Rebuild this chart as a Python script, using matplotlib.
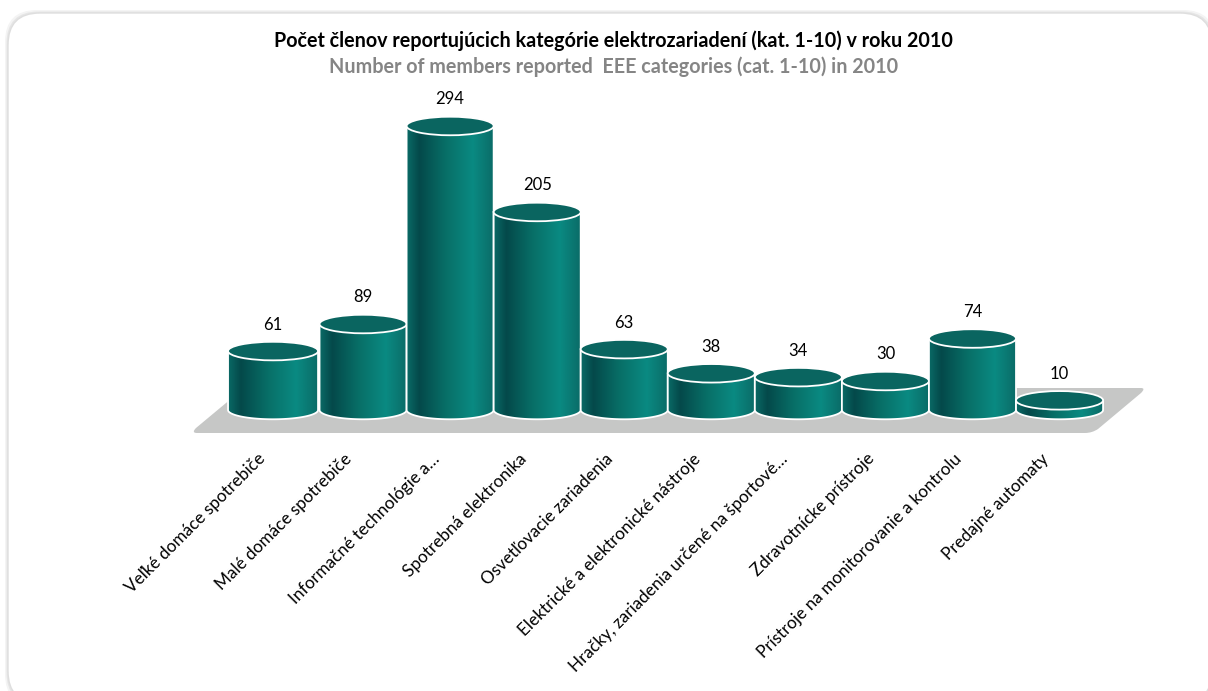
import numpy as np
import matplotlib
matplotlib.use('Agg')
import matplotlib.pyplot as plt
from matplotlib.colors import LinearSegmentedColormap
from matplotlib.patches import Ellipse, FancyBboxPatch, PathPatch
from matplotlib.path import Path

plt.rcParams['font.family'] = ['Lato', 'DejaVu Sans']

categories = ['Veľké domáce spotrebiče', 'Malé domáce spotrebiče', 'Informačné technológie a…',
              'Spotrebná elektronika', 'Osvetľovacie zariadenia', 'Elektrické a elektronické nástroje',
              'Hračky, zariadenia určené na športové…', 'Zdravotnícke prístroje',
              'Prístroje na monitorovanie a kontrolu', 'Predajné automaty']
values = [61, 89, 294, 205, 63, 38, 34, 30, 74, 10]
title_sk = 'Počet členov reportujúcich kategórie elektrozariadení (kat. 1-10) v roku 2010'
title_en = 'Number of members reported  EEE categories (cat. 1-10) in 2010'

W, H = 1208, 691
fig = plt.figure(figsize=(W / 100, H / 100), dpi=100, facecolor='white')

# pixel layer for the card and the floor
bg = fig.add_axes([0, 0, 1, 1])
bg.set_xlim(0, W)
bg.set_ylim(H, 0)
bg.axis('off')
for grow, col in [(3, '#f4f4f4'), (1.5, '#e6e6e6')]:
    bg.add_patch(FancyBboxPatch((8, 13), 1204, 690, boxstyle='round,pad=%s,rounding_size=32' % grow,
                                fc=col, ec='none'))
bg.add_patch(FancyBboxPatch((8, 13), 1204, 690, boxstyle='round,pad=0,rounding_size=32',
                            fc='white', ec='#dedede', lw=1))
floor = Path([(197, 433), (191, 433), (196, 428), (244, 388), (1141, 388), (1146, 388), (1141, 393),
              (1098, 429), (1092, 433), (1085, 433), (197, 433)],
             [Path.MOVETO, Path.CURVE3, Path.CURVE3, Path.LINETO, Path.LINETO, Path.CURVE3, Path.CURVE3,
              Path.LINETO, Path.CURVE3, Path.CURVE3, Path.CLOSEPOLY])
bg.add_patch(PathPatch(floor, fc='#c6c7c6', ec='none'))

# chart layer: x in category positions, y in member counts
ax = fig.add_axes([0, 0, 1, 1])
ax.patch.set_alpha(0)
ax.axis('off')
step = 87.06
px_unit = 0.966
xlim = (-276 / step, (W - 276) / step)
ylim = ((410 - H) / px_unit, 410 / px_unit)

cmap = LinearSegmentedColormap.from_list('teal', [(0, '#0a6a66'), (0.14, '#04494a'), (0.45, '#087068'),
                                                  (0.75, '#0a8a82'), (1, '#0a6a66')])
grad = np.linspace(0, 1, 256).reshape(1, -1)
ry = 9.6
t = np.linspace(0, np.pi, 60)

for i, v in enumerate(values):
    # the first cylinder is a bit wider on its left side
    bar_w = 1.034 if i == 0 else 1.0
    xc = i - 0.034 if i == 0 else i
    x0, x1 = xc - bar_w / 2, xc + bar_w / 2
    # flat top edge, then the front half of the base ellipse
    body = [(x0, v), (x1, v)] + list(zip(xc + bar_w / 2 * np.cos(t), -ry * np.sin(t)))
    patch = PathPatch(Path(body + [body[0]], closed=True), fc='none', ec='white', lw=1.3, zorder=i * 2 + 3)
    img = ax.imshow(grad, cmap=cmap, extent=[x0, x1, -ry, v], aspect='auto', zorder=i * 2 + 2)
    ax.add_patch(patch)
    img.set_clip_path(patch)
    ax.add_patch(Ellipse((xc, v), bar_w, 2 * ry, fc='#0a6560', ec='white', lw=1.3, zorder=i * 2 + 3))
    ax.text(xc, v + 27.5, str(v), ha='center', va='center', fontsize=12, color='black', zorder=40)
    ax.text(i - 0.22, -42, categories[i], rotation=45, rotation_mode='anchor', ha='right', va='top',
            fontsize=12.3, color='black', zorder=40)

ax.set_xlim(xlim)
ax.set_ylim(ylim)

fig.text(613.5 / W, 1 - 41 / H, title_sk, ha='center', va='center', fontsize=14.2, fontweight='bold', color='black')
fig.text(613.5 / W, 1 - 67 / H, title_en, ha='center', va='center', fontsize=14.2, fontweight='bold', color='#858585')

fig.savefig('out.png', dpi=100)
